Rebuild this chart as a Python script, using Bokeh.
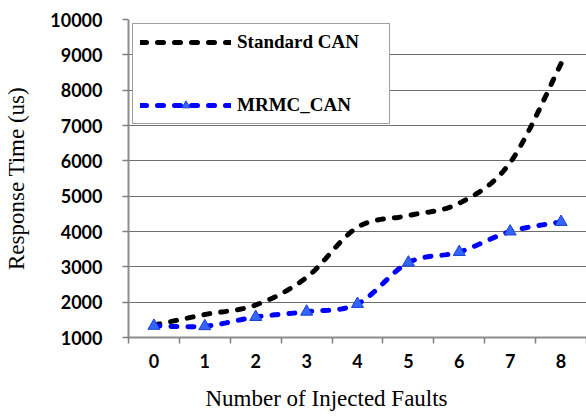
import numpy as np
from bokeh.plotting import figure
from bokeh.models import (Range1d, FixedTicker, Legend, LegendItem, Label)
from bokeh.embed import file_html
from bokeh.resources import INLINE

# ---- data ----
faults = [0, 1, 2, 3, 4, 5, 6, 7, 8]
x_tick_labels = ["0", "1", "2", "3", "4", "5", "6", "7", "8"]
standard_can = [1350, 1650, 1920, 2700, 4120, 4450, 4800, 5950, 8750]
mrmc_can = [1330, 1320, 1580, 1730, 1950, 3120, 3420, 4000, 4270]
y_ticks = [1000, 2000, 3000, 4000, 5000, 6000, 7000, 8000, 9000, 10000]


def smooth(xs, ys, n=24):
    """Excel-like smoothed line (Catmull-Rom through the data points)."""
    P = np.column_stack([np.asarray(xs, float), np.asarray(ys, float)])
    m = len(P)
    ox, oy = [], []
    for i in range(m - 1):
        p0 = P[i - 1] if i > 0 else P[i]
        p1, p2 = P[i], P[i + 1]
        p3 = P[i + 2] if i + 2 < m else P[i + 1]
        c1 = p1 + (p2 - p0) / 6.0
        c2 = p2 - (p3 - p1) / 6.0
        ts = np.linspace(0, 1, n, endpoint=(i == m - 2))
        for t in ts:
            b = ((1 - t) ** 3) * p1 + 3 * ((1 - t) ** 2) * t * c1 + 3 * (1 - t) * t * t * c2 + t ** 3 * p2
            ox.append(b[0]); oy.append(b[1])
    return ox, oy


p = figure(width=586, height=416, output_backend="svg", toolbar_location=None,
           x_range=Range1d(-0.5, 8.5), y_range=Range1d(1000, 10000),
           min_border_left=128, min_border_right=0, min_border_top=19,
           min_border_bottom=79)
p.outline_line_color = None
p.background_fill_color = "white"
p.border_fill_color = "white"

sx, sy = smooth(faults, standard_can)
mx, my = smooth(faults, mrmc_can)

l1 = p.line(sx, sy, line_color="black", line_width=5, line_dash="6 11",
            line_cap="round")
l2 = p.line(mx, my, line_color="#0000FF", line_width=5, line_dash="6 11",
            line_cap="round")
m2 = p.scatter(faults, mrmc_can, marker="triangle", size=12,
               fill_color="#3366FF", line_color="#1a3fd0", line_width=1)

# axes
xa = p.xaxis[0]
xa.ticker = FixedTicker(ticks=faults, minor_ticks=[f - 0.5 for f in faults] + [faults[-1] + 0.5])
xa.major_label_overrides = {f: s for f, s in zip(faults, x_tick_labels)}
xa.major_tick_line_color = None
xa.minor_tick_line_color = "#7f7f7f"
xa.minor_tick_out = 6
xa.minor_tick_in = 0
xa.minor_tick_line_width = 1.5
xa.axis_line_color = "#8c8c8c"
xa.axis_line_width = 2
xa.major_label_text_font = "Lato"
xa.major_label_text_font_style = "bold"
xa.major_label_text_font_size = "18px"
xa.major_label_text_color = "black"
xa.major_label_standoff = 10

ya = p.yaxis[0]
ya.ticker = FixedTicker(ticks=y_ticks, minor_ticks=[])
ya.major_tick_line_color = "#7f7f7f"
ya.major_tick_out = 6
ya.major_tick_in = 0
ya.major_tick_line_width = 1.5
ya.axis_line_color = "#8c8c8c"
ya.axis_line_width = 2
ya.major_label_text_font = "Lato"
ya.major_label_text_font_style = "bold"
ya.major_label_text_font_size = "18px"
ya.major_label_text_color = "black"
ya.major_label_standoff = 20
ya.axis_label = "Response Time (us)"
ya.axis_label_text_font = "Liberation Serif"
ya.axis_label_text_font_style = "normal"
ya.axis_label_text_font_size = "23px"
ya.axis_label_text_color = "black"
ya.axis_label_standoff = 18

p.xgrid.grid_line_color = None
p.ygrid.grid_line_color = "#6e6e6e"
p.ygrid.grid_line_width = 1
p.ygrid.ticker = FixedTicker(ticks=y_ticks)

# x-axis title in its own (unclipped) side panel below the axis
xt = Label(x=77, y=-3, x_units="screen", y_units="screen",
           text="Number of Injected Faults", text_align="left",
           text_baseline="middle", text_font="Liberation Serif",
           text_font_style="normal", text_font_size="23px",
           text_color="black")
p.add_layout(xt, "below")

legend = Legend(items=[LegendItem(label="Standard CAN", renderers=[l1]),
                       LegendItem(label="MRMC_CAN", renderers=[l2, m2])],
                location="top_left", margin=4, padding=7, spacing=41,
                glyph_width=91, glyph_height=20, label_standoff=6,
                label_width=145, border_line_color="#404040",
                border_line_width=1, background_fill_color="white",
                background_fill_alpha=1.0,
                label_text_font="Liberation Serif",
                label_text_font_style="bold", label_text_font_size="19px",
                label_text_color="black")
p.add_layout(legend, "center")

open("out.html", "w").write(file_html(p, INLINE))
